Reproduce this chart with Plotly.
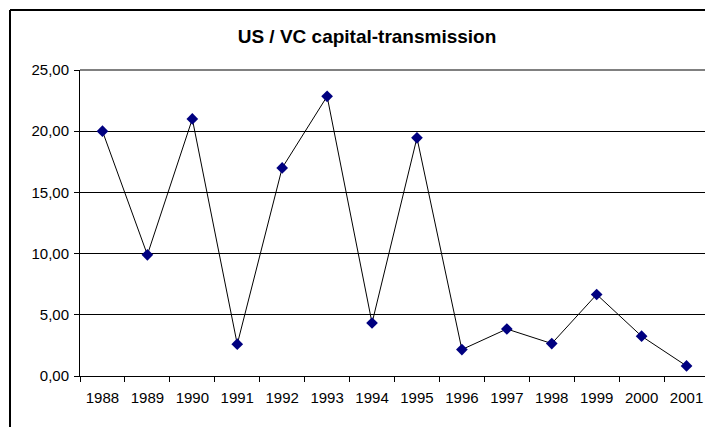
import plotly.graph_objects as go

years = ["1988", "1989", "1990", "1991", "1992", "1993", "1994",
         "1995", "1996", "1997", "1998", "1999", "2000", "2001"]
values = [20.0, 9.9, 21.0, 2.6, 17.0, 22.85, 4.33,
          19.46, 2.16, 3.84, 2.65, 6.66, 3.25, 0.82]
y_ticks = [0, 5, 10, 15, 20, 25]

# page has an 8px body margin, so the figure is placed 8px in
OFF = 8
W, H = 713 - OFF, 427 - OFF
L, R, T, B = 80 - OFF, 4, 70 - OFF, 427 - 376
pw, ph = W - L - R, H - T - B

def px_x(p):
    return (p - OFF - L) / pw

def px_y(p):
    return (H - B - (p - OFF)) / ph

fig = go.Figure()
fig.add_trace(go.Scatter(
    x=years, y=values, mode="lines+markers",
    line=dict(color="black", width=1),
    marker=dict(symbol="diamond", size=9, color="#000080",
                line=dict(width=0)),
    showlegend=False, cliponaxis=False,
))

font_family = "Liberation Sans, Arial, sans-serif"

fig.update_layout(
    width=W, height=H,
    margin=dict(l=L, r=R, t=T, b=B),
    paper_bgcolor="white", plot_bgcolor="white",
    separators=",.",
    font=dict(family=font_family, size=15, color="black"),
    title=dict(text="<b>US / VC capital-transmission</b>",
               x=(367 - OFF) / W, xanchor="center",
               y=1 - (36 - OFF) / H, yanchor="middle",
               font=dict(size=19, family=font_family, color="black")),
    xaxis=dict(type="category", range=[-0.5, len(years) - 0.5],
               showgrid=False, showline=True,
               linecolor="black", linewidth=1, ticks="outside",
               tickson="boundaries", ticklen=5, tickcolor="black",
               ticklabelstandoff=8,
               tickfont=dict(size=15), zeroline=False),
    yaxis=dict(range=[0, 25], tickvals=y_ticks, tickformat=".2f",
               showgrid=True, gridcolor="black", gridwidth=1,
               showline=True, linecolor="black", linewidth=1,
               ticks="outside", ticklen=5, tickcolor="black",
               ticklabelstandoff=2,
               tickfont=dict(size=15), zeroline=False),
    shapes=[
        dict(type="line", xref="paper", yref="paper", x0=0, x1=1, y0=1, y1=1,
             line=dict(color="#808080", width=2)),
        dict(type="line", xref="paper", yref="paper", x0=1, x1=1, y0=0, y1=1,
             line=dict(color="#808080", width=2)),
        dict(type="line", xref="paper", yref="paper",
             x0=px_x(10), x1=px_x(730), y0=px_y(10), y1=px_y(10),
             line=dict(color="black", width=2)),
        dict(type="line", xref="paper", yref="paper",
             x0=px_x(10), x1=px_x(10), y0=px_y(10), y1=px_y(440),
             line=dict(color="black", width=2)),
    ],
)

fig.write_html("out.html")
